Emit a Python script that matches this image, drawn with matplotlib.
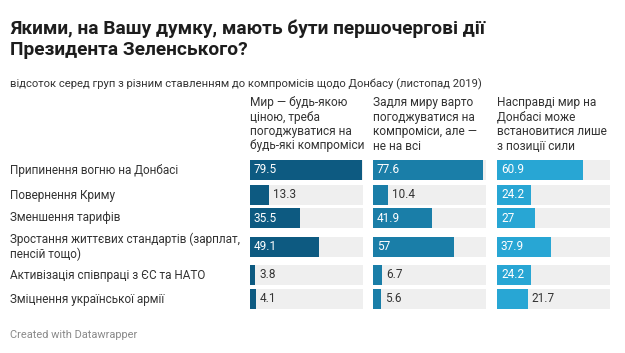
import matplotlib
matplotlib.use("Agg")
import matplotlib.pyplot as plt

plt.rcParams["font.family"] = ["Roboto", "DejaVu Sans"]

# data
categories = [
    "Припинення вогню на Донбасі",
    "Повернення Криму",
    "Зменшення тарифів",
    "Зростання життєвих стандартів (зарплат,\nпенсій тощо)",
    "Активізація співпраці з ЄС та НАТО",
    "Зміцнення української армії",
]
groups = [
    "Мир — будь-якою\nціною, треба\nпогоджуватися на\nбудь-які компроміси",
    "Задля миру варто\nпогоджуватися на\nкомпроміси, але —\nне на всі",
    "Насправді мир на\nДонбасі може\nвстановитися лише\nз позиції сили",
]
peace_any_cost = [79.5, 13.3, 35.5, 49.1, 3.8, 4.1]
peace_some = [77.6, 10.4, 41.9, 57, 6.7, 5.6]
peace_force = [60.9, 24.2, 27, 37.9, 24.2, 21.7]
series = [peace_any_cost, peace_some, peace_force]
value_labels = [
    ["79.5", "13.3", "35.5", "49.1", "3.8", "4.1"],
    ["77.6", "10.4", "41.9", "57", "6.7", "5.6"],
    ["60.9", "24.2", "27", "37.9", "24.2", "21.7"],
]

# layout (pixels)
W, H = 625, 353
colors = ["#0d5a81", "#1a7ea8", "#28a6d4"]
col_x = [250, 373, 497]
col_w = 113
row_y = [170, 195, 218, 247, 275, 299]
bar_h = 20
x_max = 80
top_px, bot_px = 155, 312

fig = plt.figure(figsize=(W / 100, H / 100), dpi=100)
fig.patch.set_facecolor("white")


def fx(x):
    return x / W


def fy(y):
    return 1 - y / H


fig.text(fx(10), fy(55), "Якими, на Вашу думку, мають бути першочергові дії\nПрезидента Зеленського?",
         fontsize=13.8, fontweight="bold", color="#1d1d1d", va="baseline", linespacing=1.2)
fig.text(fx(10), fy(87), "відсоток серед груп з різним ставленням до компромісів щодо Донбасу (листопад 2019)",
         fontsize=8.1, color="#333333", va="baseline")

for label, y in zip(categories, row_y):
    fig.text(fx(10), fy(y), label, fontsize=8.5, color="#333333", va="center", linespacing=1.2)

for i, (vals, labs) in enumerate(zip(series, value_labels)):
    fig.text(fx(col_x[i]), fy(96), groups[i], fontsize=8.6, color="#333333", va="top", linespacing=1.15)
    ax = fig.add_axes([fx(col_x[i]), fy(bot_px), col_w / W, (bot_px - top_px) / H])
    ax.set_xlim(0, x_max)
    ax.set_ylim(bot_px, top_px)
    ax.axis("off")
    ax.barh(row_y, [x_max] * len(vals), height=bar_h, color="#efefef")
    ax.barh(row_y, vals, height=bar_h, color=colors[i])
    for v, t, y in zip(vals, labs, row_y):
        if v >= 24:
            ax.text(2.8, y, t, color="white", fontsize=8.5, va="center", ha="left")
        else:
            ax.text(v + 3, y, t, color="#333333", fontsize=8.5, va="center", ha="left")

fig.text(fx(10), fy(338), "Created with Datawrapper", fontsize=7.9, color="#8a8a8a", va="baseline")

fig.savefig("out.png", dpi=100)
